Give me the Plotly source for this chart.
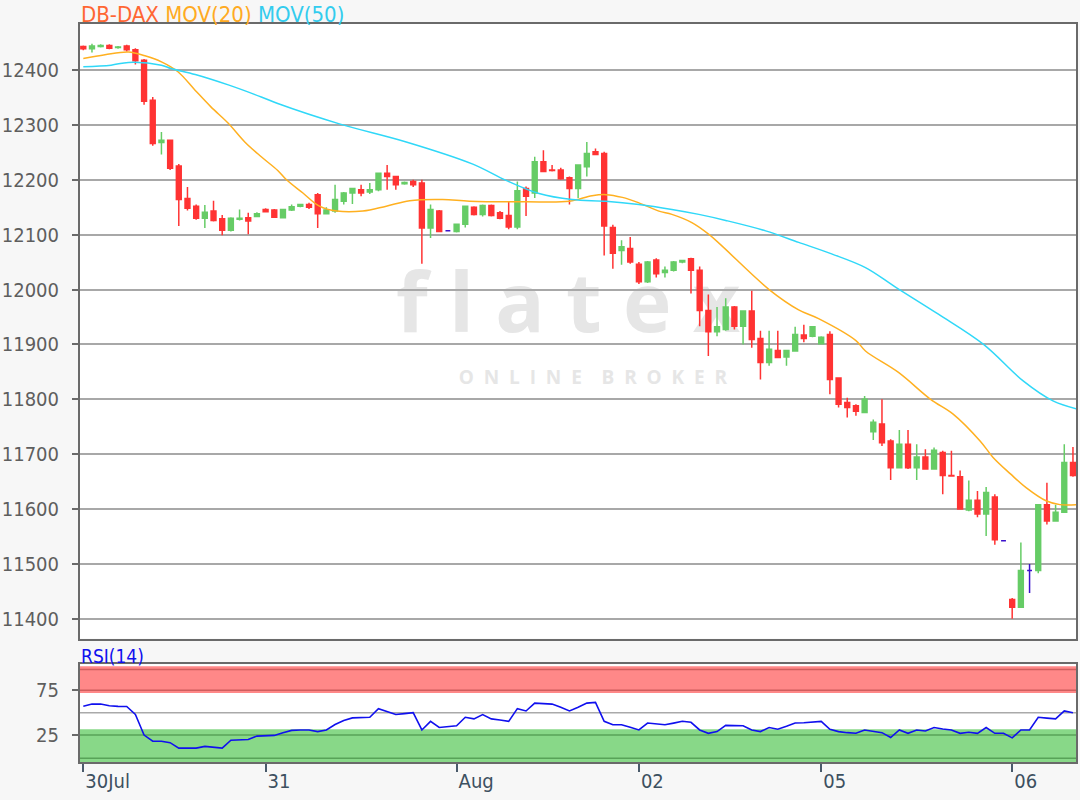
import plotly.graph_objects as go

# ---------------- data ----------------
opens = [12443, 12439, 12443, 12445, 12441, 12444, 12437, 12418, 12345, 12268,
         12272, 12225, 12166, 12152, 12130, 12143, 12129, 12108, 12128, 12131,
         12133, 12146, 12145, 12131, 12145, 12152, 12155, 12173, 12138, 12143,
         12161, 12176, 12182, 12178, 12182, 12212, 12206, 12193, 12197, 12194,
         12112, 12143, 12107, 12106, 12119, 12150, 12137, 12153, 12140, 12135,
         12114, 12184, 12176, 12233, 12218, 12218, 12204, 12184, 12224, 12251,
         12248, 12113, 12071, 12075, 12046, 12014, 12054, 12031, 12035, 12050,
         12056, 12035, 11962, 11923, 11927, 11968, 11933, 11961, 11911, 11867,
         11889, 11877, 11888, 11917, 11915, 11901, 11918, 11839, 11794, 11788,
         11776, 11741, 11755, 11724, 11675, 11718, 11675, 11695, 11673, 11703,
         11661, 11659, 11598, 11616, 11591, 11622, 11542, 11435, 11421, 11488,
         11488, 11608, 11578, 11594, 11685]
highs = [12445, 12448, 12447, 12447, 12444, 12446, 12440, 12420, 12351, 12287,
         12273, 12229, 12187, 12155, 12154, 12162, 12136, 12132, 12146, 12140,
         12141, 12148, 12147, 12147, 12155, 12156, 12158, 12176, 12150, 12191,
         12178, 12184, 12191, 12194, 12213, 12227, 12207, 12197, 12200, 12200,
         12155, 12145, 12108, 12120, 12153, 12152, 12155, 12155, 12143, 12160,
         12197, 12188, 12242, 12254, 12227, 12222, 12206, 12227, 12269, 12257,
         12251, 12118, 12090, 12096, 12050, 12052, 12057, 12042, 12052, 12054,
         12058, 12042, 11991, 11968, 11984, 11970, 11961, 11998, 11925, 11925,
         11925, 11889, 11932, 11936, 11932, 11915, 11924, 11839, 11803, 11791,
         11806, 11763, 11800, 11727, 11744, 11744, 11718, 11709, 11712, 11706,
         11706, 11670, 11652, 11633, 11640, 11627, 11542, 11438, 11539, 11500,
         11608, 11648, 11608, 11718, 11713]
lows = [12436, 12432, 12441, 12438, 12439, 12434, 12410, 12337, 12262, 12246,
        12218, 12116, 12144, 12127, 12112, 12124, 12099, 12106, 12126, 12101,
        12132, 12141, 12131, 12130, 12143, 12150, 12147, 12112, 12137, 12140,
        12155, 12156, 12170, 12174, 12179, 12182, 12182, 12191, 12187, 12047,
        12094, 12106, 12106, 12104, 12113, 12135, 12133, 12133, 12128, 12110,
        12110, 12134, 12167, 12215, 12215, 12200, 12155, 12167, 12206, 12245,
        12062, 12038, 12045, 12047, 12010, 12012, 12022, 12022, 12033, 12048,
        11993, 11933, 11879, 11915, 11925, 11927, 11900, 11894, 11836, 11861,
        11876, 11861, 11888, 11904, 11913, 11901, 11809, 11785, 11767, 11770,
        11776, 11726, 11715, 11653, 11675, 11673, 11653, 11673, 11673, 11627,
        11659, 11600, 11596, 11585, 11551, 11535, 11542, 11400, 11421, 11447,
        11483, 11572, 11578, 11594, 11659]
closes = [12439, 12444, 12445, 12440, 12442, 12437, 12417, 12343, 12266, 12272,
          12221, 12164, 12148, 12130, 12141, 12126, 12108, 12130, 12130, 12125,
          12138, 12142, 12132, 12146, 12151, 12155, 12150, 12138, 12145, 12164,
          12176, 12184, 12176, 12182, 12212, 12206, 12191, 12195, 12191, 12112,
          12146, 12106, 12107, 12119, 12152, 12137, 12153, 12135, 12130, 12114,
          12180, 12170, 12233, 12215, 12217, 12202, 12184, 12227, 12248, 12246,
          12116, 12066, 12078, 12050, 12014, 12050, 12029, 12035, 12050, 12053,
          12035, 11962, 11923, 11932, 11968, 11933, 11961, 11909, 11867, 11891,
          11876, 11889, 11918, 11911, 11932, 11913, 11836, 11791, 11785, 11778,
          11800, 11758, 11721, 11675, 11718, 11675, 11695, 11673, 11707, 11661,
          11660, 11600, 11616, 11591, 11630, 11544, 11542, 11421, 11488, 11488,
          11608, 11578, 11594, 11685, 11661]

ma20_x = [0, 2.5, 5.2, 7.1, 9.0, 10.9, 12.9, 14.7, 16.7, 18.6, 20.5, 22.4, 23.4,
          25.3, 27.2, 29.2, 32.2, 34.9, 37.6, 41.4, 44.5, 51.0, 56.0, 58.6, 60.2,
          62.1, 64.0, 66.3, 67.8, 70.1, 72.1, 79.0, 82.4, 84.7, 89.0, 90.1, 93.9,
          97.6, 100.2, 103.3, 104.8, 106.8, 108.6, 110.9, 112.5, 114.5]
ma20_y = [12421, 12428, 12433, 12426, 12415, 12397, 12363, 12333, 12303, 12269,
          12242, 12217, 12200, 12176, 12152, 12143, 12143, 12152, 12162, 12164,
          12161, 12160, 12161, 12171, 12173, 12168, 12158, 12143, 12137, 12122,
          12100, 12000, 11963, 11947, 11907, 11888, 11849, 11800, 11773, 11724,
          11694, 11664, 11639, 11615, 11608, 11608]

ma50_x = [0, 3.2, 5.2, 9.0, 10.1, 12.9, 16.7, 20.5, 22.4, 29.5, 37.2, 44.8, 48.7,
          52.5, 56.3, 60.2, 64.0, 67.8, 70.9, 74.0, 78.6, 82.4, 86.2, 90.1, 93.6,
          98.5, 103.7, 108.3, 111.7, 114.5]
ma50_y = [12406, 12409, 12414, 12409, 12403, 12392, 12373, 12351, 12339, 12302,
          12269, 12229, 12199, 12175, 12164, 12161, 12155, 12146, 12137, 12126,
          12107, 12086, 12065, 12040, 12004, 11955, 11900, 11833, 11797, 11782]

rsi = [57, 59.5, 59.5, 57.6, 57, 56.8, 48, 25.4, 18.6, 18.5,
       17, 11, 11, 11, 12.9, 12, 11, 19.7, 20, 20.5,
       24.2, 25, 25, 28, 30.5, 31, 31, 29.2, 31, 37,
       41.5, 44.3, 44.8, 45, 54.5, 51, 48, 49, 50, 31,
       40.5, 33.7, 34.5, 35.6, 45, 43.2, 48, 43.2, 42, 40.5,
       54.5, 51.9, 60.6, 60.2, 59.5, 56, 51.9, 56, 60.6, 61.4,
       40.5, 36.7, 36.7, 34, 31, 38.6, 37.5, 36.7, 38.5, 40.5,
       39.4, 31, 27.3, 29.2, 36, 36, 35.6, 31, 29.2, 33.7,
       31.8, 35, 38.6, 39, 39.4, 40.5, 31.8, 29.2, 28, 27.3,
       31, 29.5, 28, 22.7, 31, 27.3, 31, 29.9, 33.7, 32,
       31, 27.3, 28.4, 27.3, 33.7, 27.3, 27.3, 22.3, 31, 31,
       45, 44, 43.2, 51.9, 50]

tick_idx = [0, 21, 43, 64, 85, 107]
tick_txt = ["30Jul", "31", "Aug", "02", "05", "06"]
price_ticks = [11400, 11500, 11600, 11700, 11800, 11900, 12000, 12100, 12200, 12300, 12400]
rsi_ticks = [25, 75]

# ---------------- figure ----------------
idx = list(range(len(opens)))
norm = [i for i in idx if opens[i] != closes[i]]
doji = [i for i in idx if opens[i] == closes[i]]

RED = "#ff3333"
GREEN = "#66cc66"
BLUE_D = "#3a10cc"

fig = go.Figure()

fig.add_trace(go.Candlestick(
    x=norm,
    open=[opens[i] for i in norm], high=[highs[i] for i in norm],
    low=[lows[i] for i in norm], close=[closes[i] for i in norm],
    increasing=dict(line=dict(color=GREEN, width=1.5), fillcolor=GREEN),
    decreasing=dict(line=dict(color=RED, width=1.5), fillcolor=RED),
    whiskerwidth=0, showlegend=False, xaxis="x", yaxis="y"))

fig.add_trace(go.Candlestick(
    x=doji,
    open=[opens[i] for i in doji], high=[highs[i] for i in doji],
    low=[lows[i] for i in doji], close=[closes[i] for i in doji],
    increasing=dict(line=dict(color=BLUE_D, width=1.5), fillcolor=BLUE_D),
    decreasing=dict(line=dict(color=BLUE_D, width=1.5), fillcolor=BLUE_D),
    whiskerwidth=0, showlegend=False, xaxis="x", yaxis="y"))

fig.add_trace(go.Scatter(x=ma20_x, y=ma20_y, mode="lines",
                         line=dict(color="#ffb020", width=1.5, shape="spline"),
                         showlegend=False, xaxis="x", yaxis="y"))
fig.add_trace(go.Scatter(x=ma50_x, y=ma50_y, mode="lines",
                         line=dict(color="#30d8f8", width=1.5, shape="spline"),
                         showlegend=False, xaxis="x", yaxis="y"))

fig.add_trace(go.Scatter(x=idx, y=rsi, mode="lines",
                         line=dict(color="#1010ee", width=1.6),
                         showlegend=False, xaxis="x2", yaxis="y2"))

XR = [-0.38, 114.35]
AX_COL = "#6a6a6a"
GRID = "#a8a8a8"
T, B = 24, 38
PH = 800 - T - B
MAIN_BOT = (762 - 638.5) / PH
RSI_TOP = (762 - 664.4) / PH
TICKFONT = "DejaVu Sans Condensed"

fig.update_layout(
    width=1080, height=800,
    paper_bgcolor="#f7f7f7", plot_bgcolor="#ffffff",
    margin=dict(l=80, r=2, t=T, b=B),
    boxgap=0.2,
    font=dict(family=TICKFONT, size=16, color="#555555"),
    xaxis=dict(domain=[0, 1], range=XR, anchor="y", showgrid=False,
               showticklabels=False, ticks="", rangeslider=dict(visible=False),
               showline=True, linecolor=AX_COL, linewidth=2, mirror=True,
               zeroline=False),
    yaxis=dict(domain=[MAIN_BOT, 1], range=[11364, 12484], tickvals=price_ticks,
               ticktext=[str(v) for v in price_ticks],
               showgrid=True, gridcolor=GRID, gridwidth=2,
               ticks="outside", ticklen=6, tickwidth=1.5, tickcolor=AX_COL,
               showline=True, linecolor=AX_COL, linewidth=2, mirror=True,
               zeroline=False, tickfont=dict(family=TICKFONT, size=20, color="#5e5e5e"),
               ticklabelstandoff=9),
    xaxis2=dict(domain=[0, 1], range=XR, anchor="y2", showgrid=False,
                tickvals=tick_idx, ticktext=tick_txt,
                ticks="outside", ticklen=8, tickwidth=2, tickcolor="#4a5a6a",
                ticklabelposition="outside right",
                tickfont=dict(family=TICKFONT, size=20, color="#3d5060"),
                showline=True, linecolor=AX_COL, linewidth=2, mirror=True,
                zeroline=False),
    yaxis2=dict(domain=[0, RSI_TOP], range=[-4.3, 103.2], tickvals=rsi_ticks,
                ticktext=[str(v) for v in rsi_ticks],
                showgrid=False, ticks="outside", ticklen=6, tickwidth=1.5,
                tickcolor=AX_COL, showline=True, linecolor=AX_COL, linewidth=2,
                mirror=True, zeroline=False,
                tickfont=dict(family=TICKFONT, size=20, color="#5e5e5e"),
                ticklabelstandoff=9),
)

LINE_R = "rgba(170,60,60,0.55)"
LINE_G = "rgba(50,120,50,0.55)"
shapes = [
    dict(type="rect", xref="x2 domain", yref="y2", x0=0, x1=1, y0=71.7, y1=101.3,
         fillcolor="#ff8888", line=dict(width=0), layer="below"),
    dict(type="rect", xref="x2 domain", yref="y2", x0=0, x1=1, y0=-4.3, y1=31.7,
         fillcolor="#88d888", line=dict(width=0), layer="below"),
    dict(type="line", xref="x2 domain", yref="y2", x0=0, x1=1, y0=97.5, y1=97.5,
         line=dict(color=LINE_R, width=1.5), layer="below"),
    dict(type="line", xref="x2 domain", yref="y2", x0=0, x1=1, y0=74.7, y1=74.7,
         line=dict(color=LINE_R, width=1.5), layer="below"),
    dict(type="line", xref="x2 domain", yref="y2", x0=0, x1=1, y0=50, y1=50,
         line=dict(color="#aaaaaa", width=1.5), layer="below"),
    dict(type="line", xref="x2 domain", yref="y2", x0=0, x1=1, y0=25.4, y1=25.4,
         line=dict(color=LINE_G, width=1.5), layer="below"),
    dict(type="line", xref="x2 domain", yref="y2", x0=0, x1=1, y0=-0.3, y1=-0.3,
         line=dict(color=LINE_G, width=1.5), layer="below"),
    # watermark
    dict(type="rect", xref="paper", yref="paper", x0=0.30, x1=0.68,
         y0=(762 - 340) / PH, y1=(762 - 272) / PH,
         line=dict(width=0), fillcolor="rgba(0,0,0,0)", layer="below",
         label=dict(text="<b>f l a t e x</b>",
                    font=dict(family="Open Sans", size=82, color="#e6e6e6"),
                    textposition="middle center")),
    dict(type="rect", xref="paper", yref="paper", x0=0.32, x1=0.71,
         y0=(762 - 390) / PH, y1=(762 - 366) / PH,
         line=dict(width=0), fillcolor="rgba(0,0,0,0)", layer="below",
         label=dict(text="<b>O  N  L  I  N  E    B  R  O  K  E  R</b>",
                    font=dict(family="Open Sans", size=19, color="#e6e6e6"),
                    textposition="middle center")),
]
fig.update_layout(shapes=shapes)

fig.add_annotation(xref="paper", yref="paper", x=0, xshift=-1, y=1 + (T - 14) / PH,
                   xanchor="left", yanchor="middle", showarrow=False,
                   text="<span style='color:#ff6633'>DB-DAX</span> "
                        "<span style='color:#ffaa22'>MOV(20)</span> "
                        "<span style='color:#33ccee'>MOV(50)</span>",
                   font=dict(family=TICKFONT, size=22))
fig.add_annotation(xref="paper", yref="paper", x=0, xshift=-1, y=(762 - 656) / PH,
                   xanchor="left", yanchor="middle", showarrow=False,
                   text="RSI(14)", font=dict(family=TICKFONT, size=19,
                                            color="#1010ee"))

fig.write_html("out.html",
               config={"displayModeBar": False},
               post_script="document.body.style.margin='0';"
                           "document.body.style.background='#f7f7f7';")
